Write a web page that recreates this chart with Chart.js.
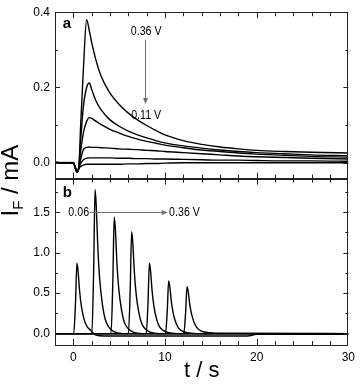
<!DOCTYPE html>
<html><head><meta charset="utf-8">
<script src="https://cdn.jsdelivr.net/npm/chart.js@4.4.0/dist/chart.umd.min.js"></script>
<style>html,body{margin:0;padding:0;background:#fff}#wrap{width:360px;height:388px;position:relative}</style>
</head><body><div id="wrap"><canvas id="c" width="360" height="388"></canvas></div>
<script>
// ---------- Panel a: transients at decreasing potential (0.36 V -> 0.11 V ...) ----------
const timeA = [-2, -1, 0, 0.2, 0.4, 0.6, 0.8, 1.1, 1.45, 1.75, 2.0, 2.5, 3, 4, 5, 6, 7, 8, 9, 10, 12, 14, 16, 18, 20, 23, 26, 30];
const curveA1 = [0.002, -0.001, 0.001, -0.012, -0.025, -0.012, 0.1, 0.25, 0.38, 0.35, 0.32, 0.27, 0.232, 0.185, 0.155, 0.132, 0.114, 0.099, 0.086, 0.074, 0.059, 0.049, 0.042, 0.037, 0.033, 0.030, 0.028, 0.026];
const curveA2 = [0.001, 0.0, 0.0, -0.012, -0.025, -0.012, 0.06, 0.15, 0.2, 0.212, 0.195, 0.163, 0.142, 0.114, 0.097, 0.084, 0.074, 0.066, 0.059, 0.053, 0.045, 0.039, 0.034, 0.030, 0.027, 0.024, 0.021, 0.019];
const curveA3 = [0.0, 0.001, 0.0, -0.012, -0.025, -0.012, 0.03, 0.08, 0.11, 0.12, 0.118, 0.11, 0.102, 0.089, 0.079, 0.070, 0.063, 0.057, 0.052, 0.047, 0.040, 0.034, 0.030, 0.026, 0.023, 0.020, 0.017, 0.015];
const curveA4 = [0.0, 0.0, 0.0, -0.012, -0.025, -0.012, 0.01, 0.035, 0.041, 0.042, 0.041, 0.041, 0.040, 0.039, 0.037, 0.036, 0.035, 0.033, 0.032, 0.030, 0.027, 0.024, 0.021, 0.018, 0.016, 0.014, 0.012, 0.010];
const curveA5 = [0.0, 0.0, 0.0, -0.012, -0.025, -0.014, -0.002, 0.008, 0.012, 0.013, 0.013, 0.013, 0.013, 0.013, 0.012, 0.012, 0.011, 0.011, 0.010, 0.010, 0.009, 0.008, 0.007, 0.007, 0.006, 0.005, 0.005, 0.004];
const curveA6 = [0.0, 0.0, 0.0, -0.012, -0.024, -0.016, -0.010, -0.006, -0.004, -0.004, -0.004, -0.004, -0.004, -0.004, -0.004, -0.003, -0.003, -0.002, -0.002, -0.001, 0, 0, 0, 0, 0, 0, 0, 0];
const seriesA = [curveA1, curveA2, curveA3, curveA4, curveA5, curveA6];

// ---------- Panel b: single transients, 0.06 V -> 0.36 V ----------
const tB1 = [-2, 0.04, 0.24, 0.39, 0.51, 0.69, 0.89, 1.19, 1.49, 1.89, 2.4, 3.4, 19, 20, 30];
const iB1 = [0, 0, 0.39, 0.87, 0.78, 0.52, 0.33, 0.17, 0.09, 0.04, -0.015, -0.03, -0.03, -0.01, -0.01];
const tB2 = [-2, 2.02, 2.22, 2.37, 2.49, 2.67, 2.87, 3.17, 3.47, 3.87, 4.37, 5.4, 30];
const iB2 = [0, 0, 0.80, 1.78, 1.60, 1.07, 0.68, 0.36, 0.18, 0.08, 0.027, 0, 0];
const tB3 = [-2, 4.11, 4.31, 4.46, 4.58, 4.76, 4.96, 5.26, 5.56, 5.96, 6.46, 7.5, 30];
const iB3 = [0, 0, 0.65, 1.44, 1.30, 0.86, 0.55, 0.29, 0.14, 0.065, 0.022, 0, 0];
const tB4 = [-2, 6.01, 6.21, 6.36, 6.48, 6.66, 6.86, 7.16, 7.46, 7.86, 8.36, 9.4, 30];
const iB4 = [0, 0, 0.57, 1.26, 1.13, 0.76, 0.48, 0.25, 0.126, 0.057, 0.019, 0, 0];
const tB5 = [-2, 7.95, 8.15, 8.3, 8.42, 8.6, 8.8, 9.1, 9.4, 9.8, 10.3, 11.3, 30];
const iB5 = [0, 0, 0.39, 0.87, 0.78, 0.52, 0.33, 0.17, 0.087, 0.039, 0.013, 0, 0];
const tB6 = [-2, 10.05, 10.25, 10.4, 10.52, 10.7, 10.9, 11.2, 11.5, 11.9, 12.4, 13.4, 30];
const iB6 = [0, 0, 0.29, 0.65, 0.585, 0.39, 0.25, 0.13, 0.065, 0.03, 0.01, 0, 0];
const tB7 = [-2, 12.05, 12.25, 12.4, 12.52, 12.7, 12.9, 13.2, 13.5, 13.9, 14.6, 16, 30];
const iB7 = [0, 0, 0.26, 0.58, 0.53, 0.36, 0.24, 0.13, 0.07, 0.035, 0.015, 0.005, 0];
const seriesB = [[tB1, iB1], [tB2, iB2], [tB3, iB3], [tB4, iB4], [tB5, iB5], [tB6, iB6], [tB7, iB7]];

// ---------- axes ----------
const xTicks = [-2, 0, 2, 4, 6, 8, 10, 12, 14, 16, 18, 20, 22, 24, 26, 28, 30];
const xLabels = [0, 10, 20, 30];
const yTopTicks = [0, 0.1, 0.2, 0.3, 0.4];
const yTopLabels = [0, 0.2, 0.4];
const yBotTicks = [0, 0.25, 0.5, 0.75, 1.0, 1.25, 1.5, 1.75];
const yBotLabels = [0, 0.5, 1.0, 1.5];

const SANS = "'Liberation Sans', Arial, sans-serif";
const TICK_FONT = {family: SANS, size: 12};

const near = (a, b) => Math.abs(a - b) < 1e-6;
const isIn = (arr, v) => arr.some(a => near(a, v));

const datasets = [];
seriesA.forEach(arr => datasets.push({
  data: timeA.map((t, k) => ({x: t, y: arr[k]})),
  yAxisID: 'yTop', borderColor: '#000', borderWidth: 1.4, pointRadius: 0,
  cubicInterpolationMode: 'monotone', fill: false
}));
seriesB.forEach(([ts, is]) => datasets.push({
  data: ts.map((t, k) => ({x: t, y: is[k]})),
  yAxisID: 'yBot', borderColor: '#000', borderWidth: 1.4, pointRadius: 0,
  cubicInterpolationMode: 'monotone', fill: false
}));

function setTicks(list) { return scale => { scale.ticks = list.map(v => ({value: v})); }; }
function fmt(labels, dec) { return v => isIn(labels, v) ? Number(v).toFixed(dec) : ''; }

function narrowText(ctx, text, x, y, align) {
  ctx.save();
  ctx.translate(x, y);
  ctx.scale(0.82, 1);
  ctx.textAlign = align;
  ctx.fillText(text, 0, 0);
  ctx.restore();
}

const framePlugin = {
  id: 'frame',
  afterDatasetsDraw(chart) {
    const ctx = chart.ctx, xs = chart.scales.x;
    ctx.save();
    ctx.strokeStyle = '#222'; ctx.lineWidth = 1;
    const L = xs.left, R = xs.right;
    for (const [id, labs] of [['yTop', yTopLabels], ['yBot', yBotLabels]]) {
      const ys = chart.scales[id];
      const T = ys.top, B = ys.bottom;
      ctx.strokeRect(Math.round(L) + 0.5, Math.round(T) + 0.5, Math.round(R - L) - 1, Math.round(B - T));
      ctx.beginPath();
      ys.ticks.forEach(t => {
        const p = Math.round(ys.getPixelForValue(t.value)) + 0.5;
        const len = isIn(labs, t.value) ? 5 : 3;
        ctx.moveTo(L, p); ctx.lineTo(L + len, p);
        ctx.moveTo(R, p); ctx.lineTo(R - len, p);
      });
      xs.ticks.forEach(t => {
        if (t.value <= xs.min || t.value >= xs.max) return;
        const p = Math.round(xs.getPixelForValue(t.value)) + 0.5;
        const len = isIn(xLabels, t.value) ? 6 : 4;
        ctx.moveTo(p, B); ctx.lineTo(p, B - len);
        ctx.moveTo(p, T); ctx.lineTo(p, T + len);
      });
      ctx.stroke();
    }
    // annotations
    const yt = chart.scales.yTop, yb = chart.scales.yBot;
    const X = v => xs.getPixelForValue(v);
    ctx.fillStyle = '#000';
    ctx.font = 'bold 15px ' + SANS; ctx.textAlign = 'left'; ctx.textBaseline = 'alphabetic';
    ctx.fillText('a', X(-1.15), yt.getPixelForValue(0.358));
    ctx.fillText('b', X(-1.15), yb.getPixelForValue(1.685));
    ctx.font = '13px ' + SANS; ctx.textBaseline = 'middle';
    narrowText(ctx, '0.36 V', X(7.95), yt.getPixelForValue(0.348), 'center');
    narrowText(ctx, '0.11 V', X(7.95), yt.getPixelForValue(0.127), 'center');
    narrowText(ctx, '0.06', X(1.72), yb.getPixelForValue(1.5), 'right');
    narrowText(ctx, '0.36 V', X(10.45), yb.getPixelForValue(1.5), 'left');
    // arrows
    ctx.strokeStyle = '#6e6e6e'; ctx.fillStyle = '#6e6e6e'; ctx.lineWidth = 1;
    const ax = Math.round(X(7.8)) + 0.5, ay1 = yt.getPixelForValue(0.327), ay2 = yt.getPixelForValue(0.156);
    ctx.beginPath(); ctx.moveTo(ax, ay1); ctx.lineTo(ax, ay2 - 4); ctx.stroke();
    ctx.beginPath(); ctx.moveTo(ax, ay2); ctx.lineTo(ax - 2.5, ay2 - 6); ctx.lineTo(ax + 2.5, ay2 - 6); ctx.closePath(); ctx.fill();
    const by = Math.round(yb.getPixelForValue(1.5)) + 0.5, bx1 = X(1.78), bx2 = X(10.3);
    ctx.beginPath(); ctx.moveTo(bx1, by); ctx.lineTo(bx2 - 4, by); ctx.stroke();
    ctx.beginPath(); ctx.moveTo(bx2, by); ctx.lineTo(bx2 - 6, by - 2.5); ctx.lineTo(bx2 - 6, by + 2.5); ctx.closePath(); ctx.fill();
    // y title  I_F / mA
    ctx.save();
    const midY = (yt.top + yb.bottom) / 2;
    ctx.font = '24px ' + SANS;
    const wI = ctx.measureText('I').width, wRest = ctx.measureText(' / mA').width;
    ctx.font = '15px ' + SANS;
    const wF = ctx.measureText('F').width;
    const total = wI + wF + wRest;
    ctx.translate(L - 37, midY);
    ctx.rotate(-Math.PI / 2);
    ctx.fillStyle = '#000'; ctx.textAlign = 'left'; ctx.textBaseline = 'alphabetic';
    let cx = -total / 2 - 2;
    ctx.font = '24px ' + SANS; ctx.fillText('I', cx, 0); cx += wI;
    ctx.font = '15px ' + SANS; ctx.fillText('F', cx, 5); cx += wF;
    ctx.font = '24px ' + SANS; ctx.fillText(' / mA', cx, 0);
    ctx.restore();
    ctx.restore();
  }
};

new Chart(document.getElementById('c'), {
  type: 'line',
  data: {datasets},
  options: {
    responsive: false, animation: false, devicePixelRatio: 1,
    layout: {padding: {top: 6, right: 8, left: 0, bottom: 0}},
    plugins: {legend: {display: false}, tooltip: {enabled: false}},
    scales: {
      x: {
        type: 'linear', min: -2, max: 30,
        afterBuildTicks: setTicks(xTicks),
        afterFit: s => { s.height = 43; },
        grid: {display: false, drawTicks: false}, border: {display: false},
        ticks: {padding: 5, color: '#000', font: TICK_FONT, maxRotation: 0, autoSkip: false,
                callback: v => isIn(xLabels, v) ? String(v) : ''},
        title: {display: true, text: 't / s', color: '#000', font: {family: SANS, size: 22}, padding: {top: 0, bottom: 4}}
      },
      yBot: {
        type: 'linear', position: 'left', stack: 'panels', stackWeight: 1, min: -0.141, max: 1.915,
        afterBuildTicks: setTicks(yBotTicks),
        afterFit: s => { s.width = 55; },
        grid: {display: false, drawTicks: false}, border: {display: false},
        ticks: {padding: 5, color: '#000', font: TICK_FONT, autoSkip: false, callback: fmt(yBotLabels, 1)}
      },
      yTop: {
        type: 'linear', position: 'left', stack: 'panels', stackWeight: 1, min: -0.042, max: 0.4,
        afterBuildTicks: setTicks(yTopTicks),
        afterFit: s => { s.width = 55; },
        grid: {display: false, drawTicks: false}, border: {display: false},
        ticks: {padding: 5, color: '#000', font: TICK_FONT, autoSkip: false, callback: fmt(yTopLabels, 1)}
      }
    }
  },
  plugins: [framePlugin]
});
</script></body></html>
